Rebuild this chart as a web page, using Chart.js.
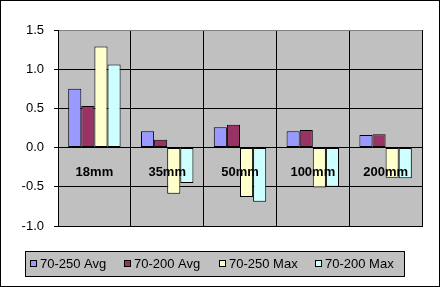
<!DOCTYPE html>
<html>
<head>
<meta charset="utf-8">
<script src="https://cdn.jsdelivr.net/npm/chart.js@4/dist/chart.umd.min.js"></script>
<style>
  html, body { margin: 0; padding: 0; background: #fff; }
  #wrap { width: 440px; height: 287px; }
</style>
</head>
<body>
<div id="wrap"><canvas id="myChart" width="440" height="287"></canvas></div>
<script>
'use strict';

// categories along the x axis
let lenses = ['18mm', '35mm', '50mm', '100mm', '200mm'];

// series values
let avg250 = [0.75, 0.21, 0.26, 0.21, 0.16];
let avg200 = [0.53, 0.10, 0.29, 0.225, 0.17];
let max250 = [1.29, -0.59, -0.63, -0.51, -0.385];
let max200 = [1.06, -0.45, -0.69, -0.50, -0.39];

let seriesNames = ['70-250 Avg', '70-200 Avg', '70-250 Max', '70-200 Max'];
let seriesColors = ['#9999FF', '#993366', '#FFFFCC', '#CCFFFF'];

// y axis range
let yMin = -1.0;
let yMax = 1.5;
let yStep = 0.5;

let font = 'Liberation Sans, Arial, sans-serif';

// gray plot area, white page and outer border
let backgroundPlugin = {
    id: 'background',
    beforeDraw(chart) {
        let ctx = chart.ctx;
        let a = chart.chartArea;
        ctx.save();
        ctx.fillStyle = '#fff';
        ctx.fillRect(0, 0, chart.width, chart.height);
        ctx.fillStyle = '#C0C0C0';
        ctx.fillRect(a.left, a.top, a.right - a.left, a.bottom - a.top);
        ctx.restore();
    },
    afterDraw(chart) {
        let ctx = chart.ctx;
        ctx.save();
        ctx.strokeStyle = '#000';
        ctx.lineWidth = 1;
        ctx.strokeRect(0.5, 0.5, chart.width - 1, chart.height - 1);
        ctx.restore();
    }
};

// category names sit just under the zero line, on top of the bars
let categoryLabels = {
    id: 'categoryLabels',
    afterDatasetsDraw(chart) {
        let ctx = chart.ctx;
        let x = chart.scales.x;
        let y = chart.scales.y;
        ctx.save();
        ctx.font = 'bold 13px ' + font;
        ctx.fillStyle = '#000';
        ctx.textAlign = 'center';
        ctx.textBaseline = 'middle';
        for (let i = 0; i < lenses.length; i++) {
            ctx.fillText(lenses[i], x.getPixelForValue(i), y.getPixelForValue(0) + 25);
        }
        ctx.restore();
    }
};

// excel style legend box at the bottom
let boxLegend = {
    id: 'boxLegend',
    afterDraw(chart) {
        let ctx = chart.ctx;
        let squareX = [30, 124, 219, 315];
        ctx.save();
        ctx.fillStyle = '#C0C0C0';
        ctx.fillRect(25, 251, 379, 26);
        ctx.strokeStyle = '#000';
        ctx.lineWidth = 1;
        ctx.strokeRect(25.5, 251.5, 379, 25);
        ctx.font = '13px ' + font;
        ctx.textBaseline = 'middle';
        ctx.textAlign = 'left';
        chart.data.datasets.forEach(function (ds, i) {
            ctx.fillStyle = ds.backgroundColor;
            ctx.fillRect(squareX[i] + 0.5, 260.5, 6, 6);
            ctx.strokeStyle = '#000';
            ctx.strokeRect(squareX[i] + 0.5, 260.5, 6, 6);
            ctx.fillStyle = '#000';
            ctx.fillText(ds.label, squareX[i] + 10, 264);
        });
        ctx.restore();
    }
};

let allValues = [avg250, avg200, max250, max200];
let datasets = [];
for (let i = 0; i < seriesNames.length; i++) {
    datasets.push({
        label: seriesNames[i],
        data: allValues[i],
        backgroundColor: seriesColors[i],
        borderColor: '#000',
        borderWidth: 1,
        borderSkipped: false
    });
}

const ctx = document.getElementById('myChart');

new Chart(ctx, {
    type: 'bar',
    data: {
        labels: lenses,
        datasets: datasets
    },
    plugins: [backgroundPlugin, categoryLabels, boxLegend],
    options: {
        responsive: false,
        animation: false,
        datasets: {
            bar: {
                categoryPercentage: 0.72,
                barPercentage: 1.0
            }
        },
        layout: {
            padding: { left: 0, right: 18, top: 30, bottom: 61 }
        },
        plugins: {
            legend: { display: false },
            tooltip: { enabled: false }
        },
        scales: {
            x: {
                ticks: { display: false },
                grid: {
                    offset: true,
                    drawTicks: false,
                    color: function (c) {
                        return c.index === lenses.length ? '#808080' : '#000';
                    },
                    lineWidth: 1
                },
                border: { display: true, color: '#000' },
                afterFit(scale) { scale.height = 0; }
            },
            y: {
                min: yMin,
                max: yMax,
                ticks: {
                    stepSize: yStep,
                    color: '#000',
                    padding: 10,
                    font: { family: font, size: 13 },
                    callback: function (v) { return v.toFixed(1); }
                },
                grid: {
                    color: function (c) {
                        return c.tick && c.tick.value === yMax ? '#808080' : '#000';
                    },
                    tickColor: '#000',
                    tickLength: 4,
                    lineWidth: 1
                },
                border: { display: true, color: '#000' },
                afterFit(scale) { scale.width = 58; }
            }
        }
    }
});
</script>
</body>
</html>
